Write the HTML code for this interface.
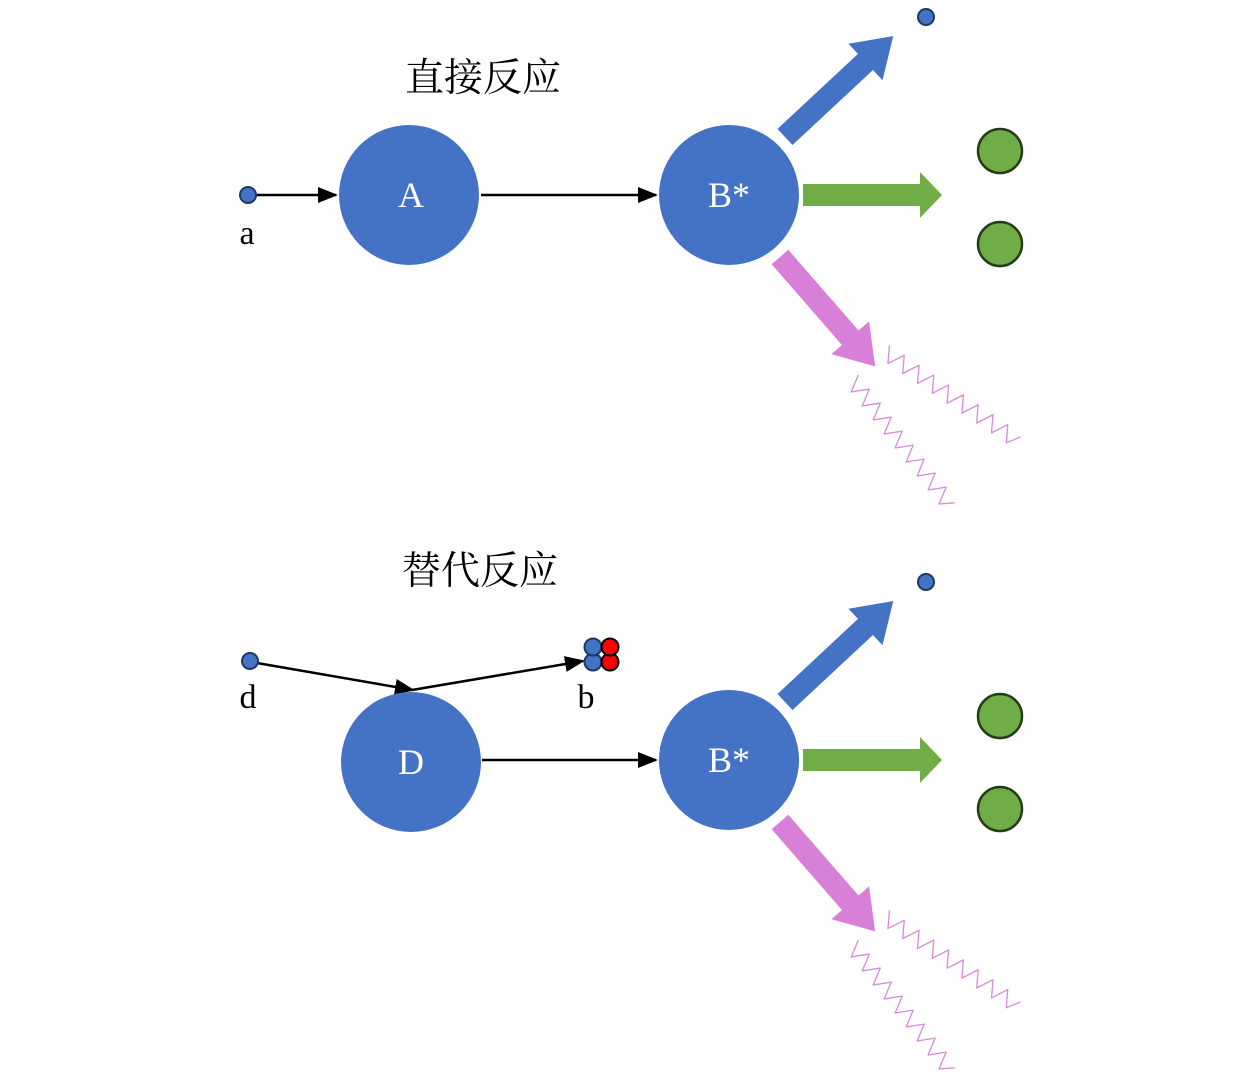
<!DOCTYPE html>
<html><head><meta charset="utf-8"><style>
html,body{margin:0;padding:0;background:#fff;}
svg{display:block;}
.t{font-family:"Liberation Serif","Noto Serif CJK SC",serif;}
</style></head><body>
<svg width="1260" height="1086" viewBox="0 0 1260 1086" xmlns="http://www.w3.org/2000/svg">
<defs>
<marker id="ah" markerWidth="20" markerHeight="16" refX="18" refY="8" orient="auto" markerUnits="userSpaceOnUse" viewBox="0 0 20 16">
<path d="M0,0 L20,8 L0,16 z" fill="#000"/>
</marker>
<polyline id="wave" fill="none" stroke="#d88ad8" stroke-width="1.3" stroke-linejoin="round" points="0,-8 8.9,8 17.8,-8 26.7,8 35.6,-8 44.5,8 53.4,-8 62.3,8 71.2,-8 80.1,8 89,-8 97.9,8 106.8,-8 115.7,8 124.6,-8 133.5,8 142.4,-8 151.3,8 160,-5"/>
<g id="right">
<circle cx="729" cy="195" r="70" fill="#4472c4"/>
<text x="729" y="207" class="t" font-size="36" fill="#fff" text-anchor="middle">B*</text>
<g transform="translate(785,137) rotate(-43)"><polygon points="0,-11 110,-11 110,-25 148,0 110,25 110,11 0,11" fill="#4472c4"/></g>
<polygon points="803,184 920,184 920,172 942,195 920,218 920,206 803,206" fill="#70ad47"/>
<g transform="translate(780,257) rotate(49)"><polygon points="0,-11 107,-11 107,-25 145,0 107,25 107,11 0,11" fill="#d880d8"/></g>
<circle cx="926" cy="17" r="8" fill="#4472c4" stroke="#1f3864" stroke-width="2"/>
<circle cx="1000" cy="151" r="22" fill="#70ad47" stroke="#253d17" stroke-width="2.5"/>
<circle cx="1000" cy="244" r="22" fill="#70ad47" stroke="#253d17" stroke-width="2.5"/>
<use href="#wave" transform="translate(885,352) rotate(33.8)"/>
<use href="#wave" transform="translate(852,380) rotate(51.9)"/>
</g>
</defs>

<text x="483" y="91" class="t" font-size="39" text-anchor="middle" fill="#000">直接反应</text>
<line x1="256" y1="195" x2="336" y2="195" stroke="#000" stroke-width="2.5" marker-end="url(#ah)"/>
<circle cx="248" cy="195" r="8" fill="#4472c4" stroke="#1f3864" stroke-width="2"/>
<text x="247" y="244" class="t" font-size="34" text-anchor="middle">a</text>
<circle cx="409" cy="195" r="70" fill="#4472c4"/>
<text x="411" y="207" class="t" font-size="36" fill="#fff" text-anchor="middle">A</text>
<line x1="481" y1="195" x2="656" y2="195" stroke="#000" stroke-width="2.5" marker-end="url(#ah)"/>
<use href="#right"/>

<text x="480" y="584" class="t" font-size="39" text-anchor="middle" fill="#000">替代反应</text>
<line x1="257" y1="663" x2="413" y2="690" stroke="#000" stroke-width="2.5" marker-end="url(#ah)"/>
<line x1="412" y1="690" x2="583" y2="661" stroke="#000" stroke-width="2.5" marker-end="url(#ah)"/>
<circle cx="250" cy="661" r="8" fill="#4472c4" stroke="#1f3864" stroke-width="2"/>
<text x="248" y="708" class="t" font-size="34" text-anchor="middle">d</text>
<text x="586" y="708" class="t" font-size="34" text-anchor="middle">b</text>
<circle cx="593" cy="662" r="8.5" fill="#4472c4" stroke="#1f3864" stroke-width="2"/>
<circle cx="593" cy="647" r="8.5" fill="#4472c4" stroke="#1f3864" stroke-width="2"/>
<circle cx="610" cy="662" r="8.5" fill="#ff0000" stroke="#000" stroke-width="2"/>
<circle cx="610" cy="647" r="8.5" fill="#ff0000" stroke="#000" stroke-width="2"/>
<circle cx="411" cy="762" r="70" fill="#4472c4"/>
<text x="411" y="774" class="t" font-size="36" fill="#fff" text-anchor="middle">D</text>
<line x1="482" y1="760" x2="656" y2="760" stroke="#000" stroke-width="2.5" marker-end="url(#ah)"/>
<use href="#right" transform="translate(0,565)"/>
</svg>
</body></html>
